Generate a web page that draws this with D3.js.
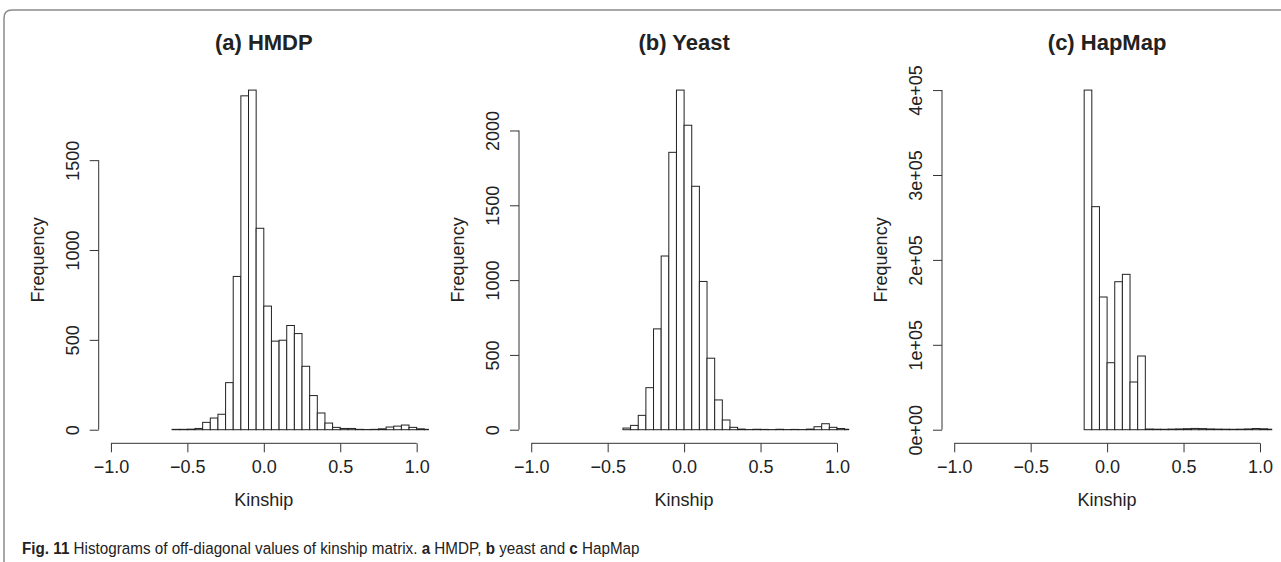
<!DOCTYPE html>
<html>
<head>
<meta charset="utf-8">
<script src="https://cdn.jsdelivr.net/npm/d3@7"></script>
<style>
  body { margin: 0; background: #fff; }
  svg { display: block; }
  text { font-family: "Liberation Sans", Arial, Helvetica, sans-serif; fill: #222; }
</style>
</head>
<body>
<div id="chart"></div>
<script>
// bin width of all three histograms
var binWidth = 0.05;

// (a) HMDP, bins start at -0.60
var hmdpStart = -0.60;
var hmdpCounts = [2, 2, 3, 7, 41, 65, 86, 262, 853, 1858, 1890, 1121, 688, 493, 498, 580,
                  535, 353, 190, 93, 37, 13, 7, 7, 2, 1, 2, 5, 15, 20, 26, 13, 5, 2];

// (b) Yeast, bins start at -0.40
var yeastStart = -0.40;
var yeastCounts = [11, 29, 96, 281, 674, 1161, 1854, 2270, 2035, 1627, 991, 478, 199, 65,
                   16, 4, 1, 3, 2, 1, 3, 1, 2, 1, 4, 20, 40, 16, 8, 3];

// (c) HapMap, bins start at -0.15
var hapmapStart = -0.15;
var hapmapCounts = [400000, 262700, 156300, 78900, 174300, 183000, 56200, 86800,
                    800, 600, 500, 700, 900, 1200, 1500, 1300, 900, 700, 600, 500, 600, 900, 1400, 1100, 600];

var titles = ["(a) HMDP", "(b) Yeast", "(c) HapMap"];
var xTicks = [-1, -0.5, 0, 0.5, 1];
var yTicksA = [0, 500, 1000, 1500];
var yTicksB = [0, 500, 1000, 1500, 2000];
var yTicksC = [0, 100000, 200000, 300000, 400000];
var yLabelsC = ["0e+00", "1e+05", "2e+05", "3e+05", "4e+05"];

var panels = [
  {title: titles[0], start: hmdpStart, counts: hmdpCounts, yTicks: yTicksA, left: 98.7},
  {title: titles[1], start: yeastStart, counts: yeastCounts, yTicks: yTicksB, left: 519},
  {title: titles[2], start: hapmapStart, counts: hapmapCounts, yTicks: yTicksC, yLabels: yLabelsC, left: 942}
];

var W = 1281, H = 562;
var plotW = 330.2, plotTop = 76.5, plotBottom = 443.3;

var svg = d3.select("#chart").append("svg")
    .attr("width", W)
    .attr("height", H);

// frame round the figure
svg.append("path")
    .attr("d", "M4,562 L4,18 Q4,10 12,10 L1281,10")
    .attr("fill", "none")
    .attr("stroke", "#8a8a8a")
    .attr("stroke-width", 1.5);

var fmtX = function(d) { return (d < 0 ? "\u2212" : "") + Math.abs(d).toFixed(1); };

panels.forEach(function(p, i) {
  var x = d3.scaleLinear()
      .domain([-1.08, 1.08])
      .range([p.left, p.left + plotW]);

  var ymax = d3.max(p.counts);
  var y = d3.scaleLinear()
      .domain([-0.04 * ymax, 1.04 * ymax])
      .range([plotBottom, plotTop]);

  var bins = p.counts.map(function(c, k) {
    return {x0: p.start + k * binWidth, x1: p.start + (k + 1) * binWidth, n: c};
  });

  var g = svg.append("g");

  svg.append("clipPath").attr("id", "clip" + i)
    .append("rect")
      .attr("x", x.range()[0])
      .attr("y", 0)
      .attr("width", plotW)
      .attr("height", H);

  g.append("g")
      .attr("clip-path", "url(#clip" + i + ")")
    .selectAll("rect")
    .data(bins)
    .enter().append("rect")
      .attr("x", function(d) { return x(d.x0); })
      .attr("y", function(d) { return y(d.n); })
      .attr("width", function(d) { return x(d.x1) - x(d.x0); })
      .attr("height", function(d) { return y(0) - y(d.n); })
      .attr("fill", "#fff")
      .attr("stroke", "#222")
      .attr("stroke-width", 1);

  // x axis
  var xa = g.append("g")
      .attr("transform", "translate(0," + plotBottom + ")")
      .call(d3.axisBottom(x).tickValues(xTicks).tickSize(9).tickPadding(8).tickFormat(fmtX));
  xa.select(".domain").attr("d", "M" + x(-1) + ",0H" + x(1)).attr("stroke", "#333");
  xa.selectAll(".tick line").attr("stroke", "#333");
  xa.selectAll("text").attr("font-size", 18).attr("fill", "#222").attr("font-family", null);

  // y axis
  var ya = g.append("g")
      .attr("transform", "translate(" + x.range()[0] + ",0)")
      .call(d3.axisLeft(y).tickValues(p.yTicks).tickSize(9)
        .tickFormat(function(d, k) { return p.yLabels ? p.yLabels[k] : d; }));
  ya.select(".domain").attr("d", "M0," + y(p.yTicks[0]) + "V" + y(p.yTicks[p.yTicks.length - 1])).attr("stroke", "#333");
  ya.selectAll(".tick line").attr("stroke", "#333");
  ya.selectAll("text")
      .attr("font-size", 18).attr("fill", "#222").attr("font-family", null)
      .attr("x", null).attr("dy", null)
      .attr("text-anchor", "middle")
      .attr("transform", "translate(-20,0) rotate(-90)");

  var cx = (x.range()[0] + x.range()[1]) / 2;

  g.append("text")
      .attr("x", cx)
      .attr("y", 50)
      .attr("text-anchor", "middle")
      .attr("font-size", 22)
      .attr("font-weight", "bold")
      .text(p.title);

  g.append("text")
      .attr("x", cx)
      .attr("y", 506)
      .attr("text-anchor", "middle")
      .attr("font-size", 18)
      .text("Kinship");

  g.append("text")
      .attr("transform", "translate(" + (x.range()[0] - 55) + "," + ((plotTop + plotBottom) / 2) + ") rotate(-90)")
      .attr("text-anchor", "middle")
      .attr("font-size", 18)
      .text("Frequency");
});

// caption, squeezed horizontally to the width it has in the figure
var cap = svg.append("text")
    .attr("font-size", 17);
cap.append("tspan").attr("font-weight", "bold").text("Fig. 11");
cap.append("tspan").text(" Histograms of off-diagonal values of kinship matrix. ");
cap.append("tspan").attr("font-weight", "bold").text("a");
cap.append("tspan").text(" HMDP, ");
cap.append("tspan").attr("font-weight", "bold").text("b");
cap.append("tspan").text(" yeast and ");
cap.append("tspan").attr("font-weight", "bold").text("c");
cap.append("tspan").text(" HapMap");
var capW = cap.node().getComputedTextLength();
cap.attr("transform", "translate(22,554) scale(" + (618 / capW) + ",1)");
</script>
</body>
</html>
